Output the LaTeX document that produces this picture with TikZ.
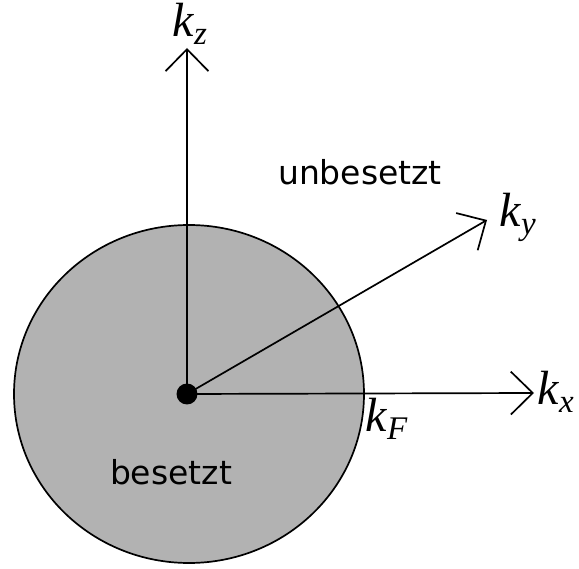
\documentclass[tikz,border=0pt]{standalone}
\usepackage{fontspec}
\setmainfont{Liberation Serif}
\setsansfont{DejaVu Sans}
\usetikzlibrary{positioning, arrows.meta}
\tikzset{
	axisline/.style={line width=1.7pt, -{Straight Barb[length=22pt, width=43pt, line width=1.7pt]}}
}
\tikzset{
	regiontext/.style={font=\fontsize{33}{33}\sffamily}
}
\tikzset{
	klab/.style={anchor=base west, inner sep=0pt, font=\fontsize{48}{48}\selectfont}
}
\newcommand{\kvec}[1]{\textit{k}\raisebox{-8pt}{\fontsize{33}{33}\selectfont\textit{#1}}}

\begin{document}
\begin{tikzpicture}[x=1pt, y=-1pt]
      \useasboundingbox (0,0) rectangle (579,569);
      \draw[line width=1.7pt, fill=black!30] (189,394) ellipse [x radius=175, y radius=169];
      \coordinate (O) at (187,394);
      \coordinate (zend) at (187,48);
      \coordinate (xend) at (534,393);
      \coordinate (yend) at (487,220);
      \draw[axisline] (O) -- (zend);
      \draw[axisline] (O) -- (xend);
      \draw[axisline] (O) -- (yend);
      \fill (O) circle (10.5);
      \node[klab] (kz) at (172,37) {\kvec{z}};
      \node[klab] (kx) at (537,405) {\kvec{x}};
      \node[klab] (ky) at (499,227) {\kvec{y}};
      \node[klab] (kF) at (365,432) {\kvec{F}};
      \node[regiontext] (unbes) at (360,172) {unbesetzt};
      \node[regiontext] (bes) at (171,472) {besetzt};
    \end{tikzpicture}
\end{document}
